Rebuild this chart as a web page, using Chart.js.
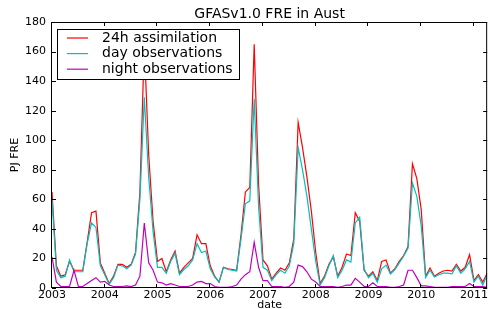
<!DOCTYPE html>
<html>
<head>
<meta charset="utf-8">
<script src="https://cdn.jsdelivr.net/npm/chart.js@4.4.1/dist/chart.umd.min.js"></script>
<style>
  html, body { margin: 0; padding: 0; background: #fff; }
</style>
</head>
<body>
<canvas id="freChart" width="489" height="309"></canvas>
<script>
// -------------------------
// Data (monthly, starting Jan 2003)
// -------------------------
const startYear = 2003;
const yearTicks = [2003, 2004, 2005, 2006, 2007, 2008, 2009, 2010, 2011];
const yTicks = [0, 20, 40, 60, 80, 100, 120, 140, 160, 180];
const seriesNames = ["24h assimilation", "day observations", "night observations"];

const assimilation = [
  65, 15, 8, 9, 18, 12, 12, 12, 31, 51, 52, 17,
  10, 3, 8, 16, 16, 14, 16, 24, 65, 165, 90, 45,
  18, 20, 11, 19, 25, 10, 14, 17, 20, 36, 30, 30,
  15, 8, 4, 14, 13, 12.5, 12, 36, 65, 68, 165, 70,
  19, 15, 6, 10, 13.5, 12, 17, 33, 112, 95, 75, 52,
  24, 3, 8, 16, 21, 8, 14, 23, 22, 51, 45, 12,
  8, 11, 5, 18, 19, 10, 13, 18, 22, 28, 84, 74,
  53, 8, 13.5, 8, 10, 11.5, 12, 11.5, 16, 11.5, 14, 22.5,
  5, 9, 4, 10
];

const dayObs = [
  60, 12, 7, 8, 19, 11, 11, 11, 30, 44, 41, 15,
  9, 2.5, 7, 15.5, 15, 13, 15.5, 23, 60, 129, 75, 38,
  14, 14, 10, 18, 23.5, 9, 12.5, 15, 19, 30, 24, 25,
  13, 7.5, 4, 14, 12.5, 12, 11.5, 33, 57, 59, 128, 55,
  14, 12, 5, 9, 12, 10, 15, 30, 95, 80, 62, 40,
  18, 2, 7, 15, 22, 7, 12, 19, 17.5, 44, 48, 13,
  7, 10, 4, 13, 15.5, 9.5, 12.5, 17, 21.5, 27, 71, 62,
  42, 7, 12, 7.5, 9, 10, 10, 9.5, 15, 10, 13, 18,
  4, 8, 2, 9
];

const nightObs = [
  21, 4, 1, 1, 1, 12, 1, 1, 3, 5, 7, 4,
  4.5, 2, 1, 1, 1, 1.5, 1, 2, 8, 44, 17, 12,
  4, 3.5, 2, 3, 2, 1, 1, 1, 2, 4, 4.5, 3,
  3, 1, 0.5, 0.5, 0.5, 1, 2, 6, 9, 11, 31, 14,
  5, 5, 1, 1, 1, 0.5, 1, 4, 15.5, 14.5, 11, 6,
  4, 1, 1, 1, 1, 0.5, 1, 2, 2, 6.5, 4, 1,
  1, 3.5, 1, 1, 1, 0.5, 0.5, 1, 2, 12, 12, 7,
  1.5, 1.5, 1, 0.5, 0.5, 0.5, 0.5, 1, 1, 1, 1, 3,
  1, 1, 1, 0.5
];

const seriesColors = ["#ff0000", "#00bfbf", "#bf00bf"];
const FONT = "'DejaVu Sans', sans-serif";

// -------------------------
// Helpers
// -------------------------
const toPoints = arr => arr.map((v, i) => ({ x: i, y: v }));

// -------------------------
// Frame, inward ticks, titles and legend
// -------------------------
const mplDecor = {
  id: "mplDecor",
  afterDraw(chart) {
    const { ctx, chartArea: a, scales: { x, y } } = chart;
    ctx.save();
    ctx.strokeStyle = "#000";
    ctx.lineWidth = 1;

    // axes frame
    ctx.strokeRect(a.left - 0.5, a.top + 0.5, a.right - a.left, a.bottom - a.top - 1);

    // inward ticks on all four sides
    const tl = 4;
    ctx.beginPath();
    y.ticks.forEach(t => {
      const py = Math.round(y.getPixelForValue(t.value)) + 0.5;
      ctx.moveTo(a.left, py); ctx.lineTo(a.left + tl, py);
      ctx.moveTo(a.right, py); ctx.lineTo(a.right - tl, py);
    });
    x.ticks.forEach(t => {
      const px = Math.round(x.getPixelForValue(t.value)) - 0.5;
      ctx.moveTo(px, a.bottom); ctx.lineTo(px, a.bottom - tl);
      ctx.moveTo(px, a.top); ctx.lineTo(px, a.top + tl);
    });
    ctx.stroke();

    // titles
    ctx.fillStyle = "#000";
    ctx.textAlign = "center";
    ctx.textBaseline = "alphabetic";
    const cx = (a.left + a.right) / 2;
    ctx.font = "14px " + FONT;
    ctx.fillText("GFASv1.0 FRE in Aust", cx, 18);
    ctx.font = "11px " + FONT;
    ctx.fillText("date", cx, 308);
    ctx.save();
    ctx.translate(18, (a.top + a.bottom) / 2);
    ctx.rotate(-Math.PI / 2);
    ctx.fillText("PJ FRE", 0, 0);
    ctx.restore();

    // legend box
    const lx = 57, ly = 29, lw = 182, lh = 50;
    ctx.fillStyle = "#fff";
    ctx.fillRect(lx, ly, lw, lh);
    ctx.strokeRect(lx + 0.5, ly + 0.5, lw, lh);
    ctx.font = "14px " + FONT;
    ctx.textAlign = "left";
    ctx.textBaseline = "middle";
    chart.data.datasets.forEach((ds, i) => {
      const rowY = 38 + i * 15.6;
      ctx.strokeStyle = ds.borderColor;
      ctx.lineWidth = 1.2;
      ctx.beginPath();
      ctx.moveTo(67, rowY); ctx.lineTo(88, rowY);
      ctx.stroke();
      ctx.fillStyle = "#000";
      ctx.fillText(ds.label, 102, rowY);
    });
    ctx.restore();
  },
};

// -------------------------
// Build chart
// -------------------------
const makeSet = (label, data, color, order) => ({
  label,
  data: toPoints(data),
  borderColor: color,
  backgroundColor: color,
  borderWidth: 1.2,
  pointRadius: 0,
  tension: 0,
  fill: false,
  order,
});

new Chart(document.getElementById("freChart"), {
  type: "line",
  data: {
    datasets: [
      makeSet(seriesNames[0], assimilation, seriesColors[0], 3),
      makeSet(seriesNames[1], dayObs, seriesColors[1], 2),
      makeSet(seriesNames[2], nightObs, seriesColors[2], 1),
    ],
  },
  options: {
    responsive: false,
    animation: false,
    devicePixelRatio: 1,
    layout: { padding: { left: 0, right: 1, top: 22, bottom: 0 } },
    plugins: {
      legend: { display: false },
      title: { display: false },
      tooltip: { enabled: false },
    },
    scales: {
      x: {
        type: "linear",
        min: 0,
        max: assimilation.length - 1,
        afterBuildTicks: s => { s.ticks = yearTicks.map(yr => ({ value: (yr - startYear) * 12 })); },
        afterFit: s => { s.height = 21; },
        ticks: {
          color: "#000",
          font: { family: FONT, size: 11 },
          maxRotation: 0,
          autoSkip: false,
          padding: 1,
          callback: v => String(startYear + v / 12),
        },
        grid: { display: false, drawTicks: false },
        border: { display: false },
      },
      y: {
        min: 0,
        max: 180,
        afterBuildTicks: s => { s.ticks = yTicks.map(v => ({ value: v })); },
        afterFit: s => { s.width = 52; },
        ticks: {
          color: "#000",
          font: { family: FONT, size: 11 },
          padding: 6,
        },
        grid: { display: false, drawTicks: false },
        border: { display: false },
      },
    },
  },
  plugins: [mplDecor],
});
</script>
</body>
</html>
